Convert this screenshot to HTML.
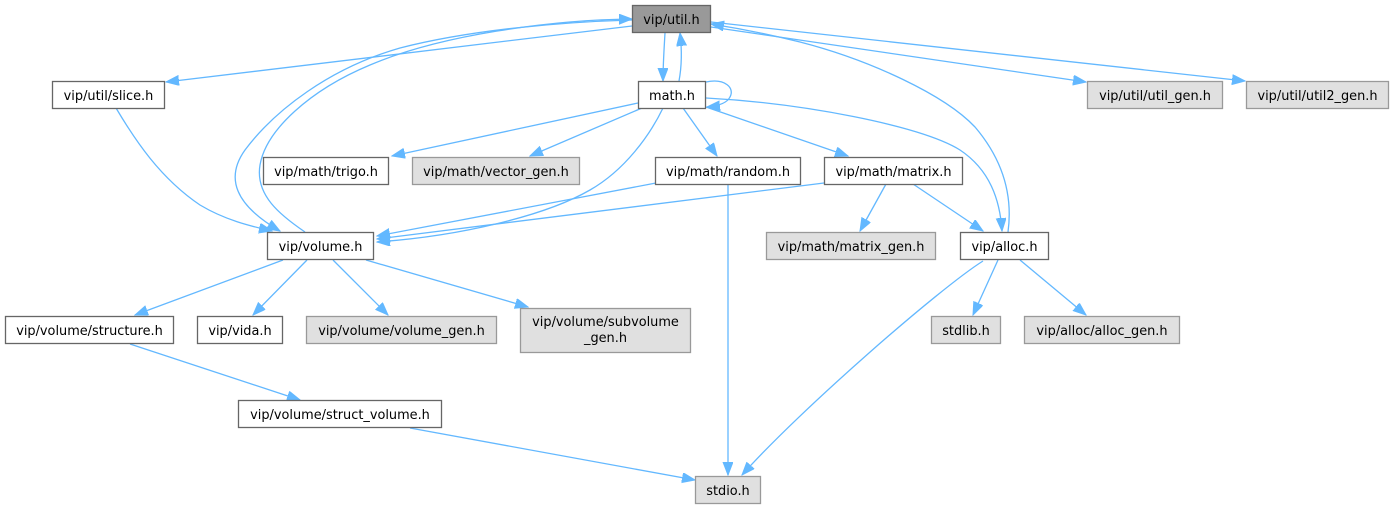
<!DOCTYPE html>
<html><head><meta charset="utf-8"><style>
html,body{margin:0;padding:0;background:#fff;}
svg{display:block;}
text{font-family:"DejaVu Sans","Liberation Sans",sans-serif;font-size:12.9px;fill:#000;text-anchor:middle;}
.e{fill:none;stroke:#63b8ff;stroke-width:1.3;}
.w{fill:#fff;stroke:#666;stroke-width:1.3;}
.g{fill:#e0e0e0;stroke:#999;stroke-width:1.3;}
.m{fill:#999;stroke:#666;stroke-width:1.3;}
</style></head><body>
<svg width="1394" height="509" viewBox="0 0 1394 509" xmlns="http://www.w3.org/2000/svg">
<defs>
<marker id="a" markerWidth="14" markerHeight="11" refX="13" refY="5" orient="auto" markerUnits="userSpaceOnUse">
<path d="M0,0 L13,5 L0,10 z" fill="#63b8ff" stroke="#63b8ff" stroke-width="1"/>
</marker>
</defs>

<!-- edges -->
<g class="edges">
<path class="e" marker-end="url(#a)" d="M632,26 L166,82"/>
<path class="e" marker-end="url(#a)" d="M632,20 C560,22 470,30 400,48 C330,68 275,110 245,150 C225,178 235,205 280,231"/>
<path class="e" marker-end="url(#a)" d="M305,232 C280,215 255,195 260,165 C266,130 310,90 370,65 C440,35 550,20 632,19"/>
<path class="e" marker-end="url(#a)" d="M665,33 C664,50 663,65 663,81"/>
<path class="e" marker-end="url(#a)" d="M679,81 C682,65 682,50 680,33"/>
<path class="e" marker-end="url(#a)" d="M706,82 C725,78 735,88 730,97 C727,103 718,106 707,107"/>
<path class="e" marker-end="url(#a)" d="M711,27 L1086,82"/>
<path class="e" marker-end="url(#a)" d="M711,22 L1245,81"/>
<path class="e" marker-end="url(#a)" d="M1008,232 C1013,195 1003,160 975,127 C945,95 870,60 800,42 C760,32 730,27 711,24"/>
<path class="e" marker-end="url(#a)" d="M706,98 C800,103 920,125 960,150 C990,170 1000,200 1002,231"/>
<path class="e" marker-end="url(#a)" d="M638,103 L392,156"/>
<path class="e" marker-end="url(#a)" d="M642,108 L530,156"/>
<path class="e" marker-end="url(#a)" d="M663,108 C650,135 625,170 590,190 C545,216 460,236 377,242"/>
<path class="e" marker-end="url(#a)" d="M683,108 L717,156"/>
<path class="e" marker-end="url(#a)" d="M706,107 L848,156"/>
<path class="e" marker-end="url(#a)" d="M656,183 L377,236"/>
<path class="e" marker-end="url(#a)" d="M824,183 L377,239"/>
<path class="e" marker-end="url(#a)" d="M728,184 L728,475"/>
<path class="e" marker-end="url(#a)" d="M886,184 L860,231"/>
<path class="e" marker-end="url(#a)" d="M913,184 L983,231"/>
<path class="e" marker-end="url(#a)" d="M983,261 C940,288 800,410 742,475"/>
<path class="e" marker-end="url(#a)" d="M998,260 L973,315"/>
<path class="e" marker-end="url(#a)" d="M1020,260 L1086,315"/>
<path class="e" marker-end="url(#a)" d="M116,108 C135,140 160,178 200,205 C225,220 250,226 272,231"/>
<path class="e" marker-end="url(#a)" d="M283,260 L135,315"/>
<path class="e" marker-end="url(#a)" d="M307,260 L253,315"/>
<path class="e" marker-end="url(#a)" d="M333,260 L388,315"/>
<path class="e" marker-end="url(#a)" d="M366,260 L528,307"/>
<path class="e" marker-end="url(#a)" d="M130,344 L300,400"/>
<path class="e" marker-end="url(#a)" d="M410,428 L695,480"/>
</g>

<!-- nodes -->
<rect class="m" x="632.5" y="5.5" width="78" height="27"/><text x="671.5" y="24">vip/util.h</text>
<rect class="w" x="638.5" y="81.5" width="67" height="27"/><text x="672" y="100">math.h</text>
<rect class="w" x="52.5" y="81.5" width="112" height="27"/><text x="108.5" y="100">vip/util/slice.h</text>
<rect class="g" x="1087.5" y="81.5" width="135" height="27"/><text x="1155" y="100">vip/util/util_gen.h</text>
<rect class="g" x="1246.5" y="81.5" width="142" height="27"/><text x="1317.5" y="100">vip/util/util2_gen.h</text>
<rect class="w" x="263.5" y="157.5" width="125" height="27"/><text x="326" y="176">vip/math/trigo.h</text>
<rect class="g" x="412.5" y="157.5" width="167" height="27"/><text x="496" y="176">vip/math/vector_gen.h</text>
<rect class="w" x="655.5" y="157.5" width="145" height="27"/><text x="728" y="176">vip/math/random.h</text>
<rect class="w" x="824.5" y="157.5" width="138" height="27"/><text x="893.5" y="176">vip/math/matrix.h</text>
<rect class="w" x="267.5" y="232.5" width="106" height="27"/><text x="320.5" y="251">vip/volume.h</text>
<rect class="g" x="766.5" y="232.5" width="169" height="27"/><text x="851" y="251">vip/math/matrix_gen.h</text>
<rect class="w" x="960.5" y="232.5" width="88" height="27"/><text x="1004.5" y="251">vip/alloc.h</text>
<rect class="w" x="5.5" y="316.5" width="168" height="27"/><text x="89.5" y="335">vip/volume/structure.h</text>
<rect class="w" x="197.5" y="316.5" width="85" height="27"/><text x="240" y="335">vip/vida.h</text>
<rect class="g" x="306.5" y="316.5" width="190" height="27"/><text x="401.5" y="335">vip/volume/volume_gen.h</text>
<rect class="g" x="520.5" y="308.5" width="170" height="44"/><text x="605.5" y="326">vip/volume/subvolume</text><text x="605.5" y="342">_gen.h</text>
<rect class="g" x="931.5" y="316.5" width="69" height="27"/><text x="966" y="335">stdlib.h</text>
<rect class="g" x="1024.5" y="316.5" width="155" height="27"/><text x="1102" y="335">vip/alloc/alloc_gen.h</text>
<rect class="w" x="238.5" y="400.5" width="203" height="27"/><text x="340" y="419">vip/volume/struct_volume.h</text>
<rect class="g" x="695.5" y="476.5" width="65" height="27"/><text x="728" y="495">stdio.h</text>
</svg>
</body></html>
